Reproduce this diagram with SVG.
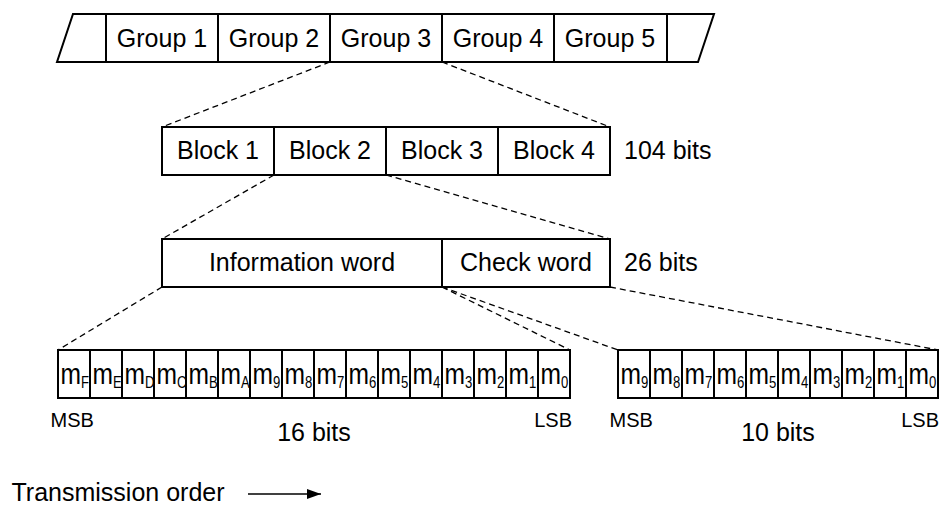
<svg xmlns="http://www.w3.org/2000/svg" width="940" height="507" viewBox="0 0 940 507">
  <defs>
    <style>
      .box { fill: #fff; stroke: #000; stroke-width: 2; }
      .edge { fill: none; stroke: #000; stroke-width: 2; stroke-linejoin: miter; }
      .dash { fill: none; stroke: #000; stroke-width: 1.3; stroke-dasharray: 6 4; }
      .lbl { font-family: "Liberation Sans", Arial, sans-serif; font-size: 25px; fill: #000; text-anchor: middle; }
      .side { font-family: "Liberation Sans", Arial, sans-serif; font-size: 25px; fill: #000; }
      .tag { font-family: "Liberation Sans", Arial, sans-serif; font-size: 20px; fill: #000; }
      .bit { font-family: "Liberation Sans", Arial, sans-serif; font-size: 30px; fill: #000; }
      .sub { font-size: 16px; }
    </style>
    <marker id="arrow" viewBox="0 0 14 10" refX="14" refY="5" markerWidth="14" markerHeight="10" markerUnits="userSpaceOnUse" orient="auto">
      <path d="M0,0 L14,5 L0,10 Z" fill="#000"/>
    </marker>
  </defs>

  <!-- Connectors: dashed expansion lines between levels -->
  <g id="connectors">
    <line class="dash" x1="330" y1="62" x2="162" y2="127"/>
    <line class="dash" x1="442" y1="62" x2="610" y2="127"/>
    <line class="dash" x1="274" y1="175" x2="162" y2="239"/>
    <line class="dash" x1="386" y1="175" x2="610" y2="239"/>
    <line class="dash" x1="162" y1="287" x2="58" y2="350"/>
    <line class="dash" x1="442" y1="287" x2="570" y2="350"/>
    <line class="dash" x1="442" y1="287" x2="618" y2="350"/>
    <line class="dash" x1="610" y1="287" x2="938" y2="350"/>
  </g>

  <!-- Group stream -->
  <g id="stream-left"><path class="edge" d="M106,14 H73 L57,62 H106"/></g>
  <g id="group1"><rect class="box" x="106" y="14" width="112" height="48"/><text class="lbl" x="162" y="47">Group 1</text></g>
  <g id="group2"><rect class="box" x="218" y="14" width="112" height="48"/><text class="lbl" x="274" y="47">Group 2</text></g>
  <g id="group3"><rect class="box" x="330" y="14" width="112" height="48"/><text class="lbl" x="386" y="47">Group 3</text></g>
  <g id="group4"><rect class="box" x="442" y="14" width="112" height="48"/><text class="lbl" x="498" y="47">Group 4</text></g>
  <g id="group5"><rect class="box" x="554" y="14" width="113" height="48"/><text class="lbl" x="610" y="47">Group 5</text></g>
  <g id="stream-right"><path class="edge" d="M667,14 H714 L698,62 H667"/></g>

  <!-- Blocks -->
  <g id="block1"><rect class="box" x="162" y="127" width="112" height="48"/><text class="lbl" x="218" y="159">Block 1</text></g>
  <g id="block2"><rect class="box" x="274" y="127" width="112" height="48"/><text class="lbl" x="330" y="159">Block 2</text></g>
  <g id="block3"><rect class="box" x="386" y="127" width="112" height="48"/><text class="lbl" x="442" y="159">Block 3</text></g>
  <g id="block4"><rect class="box" x="498" y="127" width="112" height="48"/><text class="lbl" x="554" y="159">Block 4</text></g>
  <text class="side" x="624" y="159">104 bits</text>

  <!-- Words -->
  <g id="info-word"><rect class="box" x="162" y="239" width="280" height="48"/><text class="lbl" x="302" y="271">Information word</text></g>
  <g id="check-word"><rect class="box" x="442" y="239" width="168" height="48"/><text class="lbl" x="526" y="271">Check word</text></g>
  <text class="side" x="624" y="271">26 bits</text>

  <!-- Information bits (16) -->
  <g id="info-bits">
    <rect class="box" x="58" y="350" width="512" height="48"/>
    <path class="edge" d="M90,350V398 M122,350V398 M154,350V398 M186,350V398 M218,350V398 M250,350V398 M282,350V398 M314,350V398 M346,350V398 M378,350V398 M410,350V398 M442,350V398 M474,350V398 M506,350V398 M538,350V398"/>
    <text class="bit" transform="translate(60.5,384) scale(0.82,1)">m<tspan class="sub" dy="4">F</tspan></text>
    <text class="bit" transform="translate(92.5,384) scale(0.82,1)">m<tspan class="sub" dy="4">E</tspan></text>
    <text class="bit" transform="translate(124.5,384) scale(0.82,1)">m<tspan class="sub" dy="4">D</tspan></text>
    <text class="bit" transform="translate(156.5,384) scale(0.82,1)">m<tspan class="sub" dy="4">C</tspan></text>
    <text class="bit" transform="translate(188.5,384) scale(0.82,1)">m<tspan class="sub" dy="4">B</tspan></text>
    <text class="bit" transform="translate(220.5,384) scale(0.82,1)">m<tspan class="sub" dy="4">A</tspan></text>
    <text class="bit" transform="translate(252.5,384) scale(0.82,1)">m<tspan class="sub" dy="4">9</tspan></text>
    <text class="bit" transform="translate(284.5,384) scale(0.82,1)">m<tspan class="sub" dy="4">8</tspan></text>
    <text class="bit" transform="translate(316.5,384) scale(0.82,1)">m<tspan class="sub" dy="4">7</tspan></text>
    <text class="bit" transform="translate(348.5,384) scale(0.82,1)">m<tspan class="sub" dy="4">6</tspan></text>
    <text class="bit" transform="translate(380.5,384) scale(0.82,1)">m<tspan class="sub" dy="4">5</tspan></text>
    <text class="bit" transform="translate(412.5,384) scale(0.82,1)">m<tspan class="sub" dy="4">4</tspan></text>
    <text class="bit" transform="translate(444.5,384) scale(0.82,1)">m<tspan class="sub" dy="4">3</tspan></text>
    <text class="bit" transform="translate(476.5,384) scale(0.82,1)">m<tspan class="sub" dy="4">2</tspan></text>
    <text class="bit" transform="translate(508.5,384) scale(0.82,1)">m<tspan class="sub" dy="4">1</tspan></text>
    <text class="bit" transform="translate(540.5,384) scale(0.82,1)">m<tspan class="sub" dy="4">0</tspan></text>
    <text class="tag" x="50.5" y="427">MSB</text>
    <text class="tag" x="572" y="427" text-anchor="end">LSB</text>
    <text class="lbl" x="314" y="441">16 bits</text>
  </g>

  <!-- Check bits (10) -->
  <g id="check-bits">
    <rect class="box" x="618" y="350" width="320" height="48"/>
    <path class="edge" d="M650,350V398 M682,350V398 M714,350V398 M746,350V398 M778,350V398 M810,350V398 M842,350V398 M874,350V398 M906,350V398"/>
    <text class="bit" transform="translate(620.5,384) scale(0.82,1)">m<tspan class="sub" dy="4">9</tspan></text>
    <text class="bit" transform="translate(652.5,384) scale(0.82,1)">m<tspan class="sub" dy="4">8</tspan></text>
    <text class="bit" transform="translate(684.5,384) scale(0.82,1)">m<tspan class="sub" dy="4">7</tspan></text>
    <text class="bit" transform="translate(716.5,384) scale(0.82,1)">m<tspan class="sub" dy="4">6</tspan></text>
    <text class="bit" transform="translate(748.5,384) scale(0.82,1)">m<tspan class="sub" dy="4">5</tspan></text>
    <text class="bit" transform="translate(780.5,384) scale(0.82,1)">m<tspan class="sub" dy="4">4</tspan></text>
    <text class="bit" transform="translate(812.5,384) scale(0.82,1)">m<tspan class="sub" dy="4">3</tspan></text>
    <text class="bit" transform="translate(844.5,384) scale(0.82,1)">m<tspan class="sub" dy="4">2</tspan></text>
    <text class="bit" transform="translate(876.5,384) scale(0.82,1)">m<tspan class="sub" dy="4">1</tspan></text>
    <text class="bit" transform="translate(908.5,384) scale(0.82,1)">m<tspan class="sub" dy="4">0</tspan></text>
    <text class="tag" x="609.5" y="427">MSB</text>
    <text class="tag" x="939" y="427" text-anchor="end">LSB</text>
    <text class="lbl" x="778" y="441">10 bits</text>
  </g>

  <!-- Legend -->
  <g id="legend">
    <text class="side" x="11.5" y="501" font-size="26">Transmission order</text>
    <line x1="248" y1="494" x2="321" y2="494" stroke="#000" stroke-width="1.5" marker-end="url(#arrow)"/>
  </g>
</svg>
